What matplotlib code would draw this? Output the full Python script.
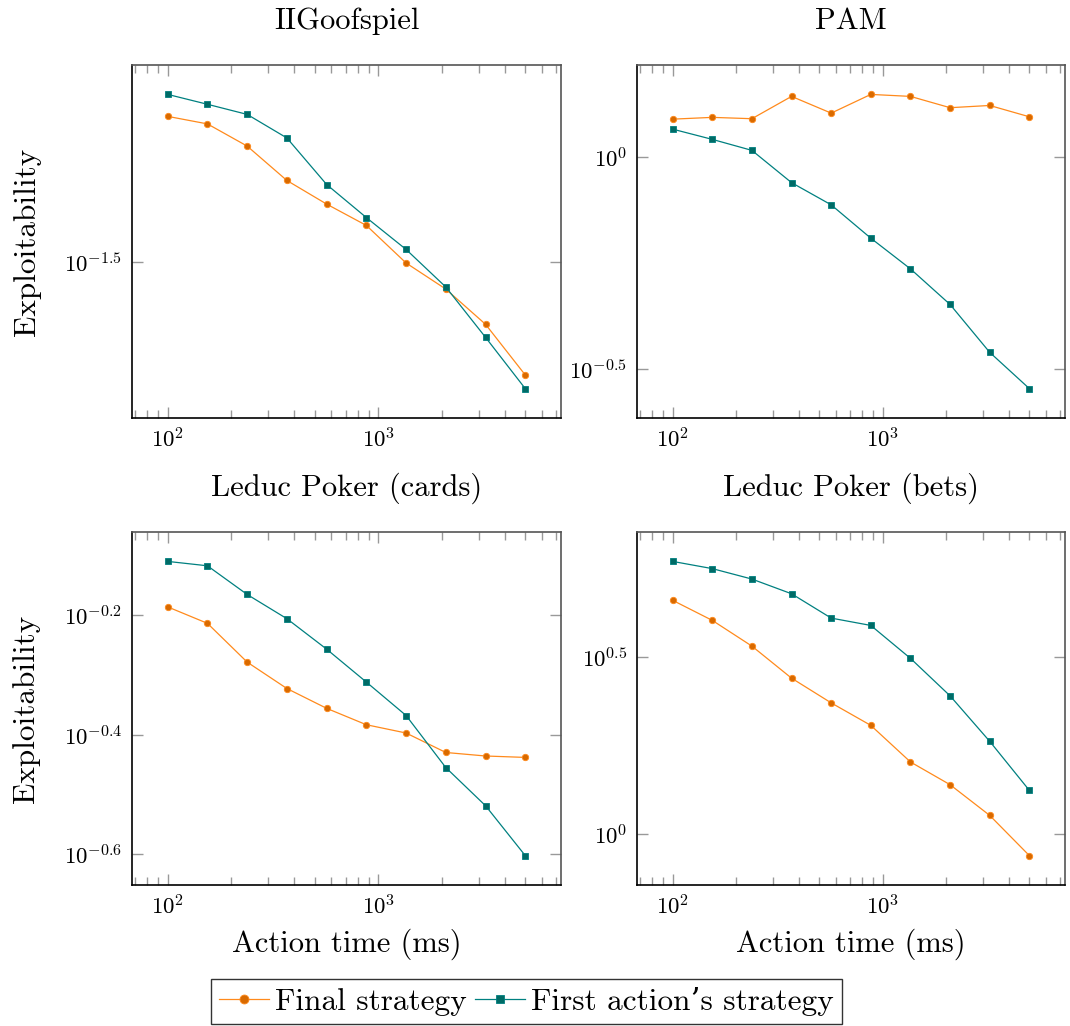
import numpy as np
import matplotlib
matplotlib.use("Agg")
import matplotlib.pyplot as plt
from matplotlib.ticker import FixedLocator, NullFormatter

plt.rcParams["font.family"] = ["cmr10", "DejaVu Serif"]
plt.rcParams["mathtext.fontset"] = "cm"
plt.rcParams["axes.formatter.use_mathtext"] = True

# --- data -------------------------------------------------------------------
action_time = [100, 154.4, 238.5, 368.4, 569.0, 878.7, 1357.2, 2096.1, 3237.5, 5000]

goof_final = [0.0675, 0.0649, 0.0578, 0.0483, 0.0427, 0.0382, 0.0314, 0.0274, 0.0228, 0.0175]
goof_first = [0.0757, 0.0719, 0.0682, 0.0603, 0.0473, 0.0398, 0.0337, 0.0277, 0.0213, 0.0163]

pam_final = [1.231, 1.243, 1.234, 1.393, 1.272, 1.408, 1.393, 1.310, 1.326, 1.247]
pam_first = [1.166, 1.103, 1.039, 0.872, 0.773, 0.645, 0.546, 0.450, 0.347, 0.285]

cards_final = [0.652, 0.612, 0.527, 0.476, 0.441, 0.414, 0.401, 0.372, 0.367, 0.365]
cards_first = [0.777, 0.764, 0.684, 0.623, 0.554, 0.488, 0.429, 0.351, 0.303, 0.250]

bets_final = [4.58, 4.02, 3.40, 2.76, 2.35, 2.03, 1.60, 1.38, 1.13, 0.870]
bets_first = [5.90, 5.63, 5.26, 4.78, 4.08, 3.89, 3.14, 2.46, 1.83, 1.33]

titles = ["IIGoofspiel", "PAM", "Leduc Poker (cards)", "Leduc Poker (bets)"]
series = [(goof_final, goof_first), (pam_final, pam_first),
          (cards_final, cards_first), (bets_final, bets_first)]
y_tick_exps = [[-1.5], [0, -0.5], [-0.2, -0.4, -0.6], [0.5, 0]]
x_tick_exps = [2, 3]

labels = ["Final strategy", "First action\u2019s strategy"]

# --- style --------------------------------------------------------------------
ORANGE = "#FF8A1C"
ORANGE_DARK = "#D96A00"
TEAL = "#008080"
TEAL_DARK = "#006B66"

W, H = 1070, 1026
fig = plt.figure(figsize=(W / 100, H / 100), dpi=100)

# axes boxes in pixels: left, top, right, bottom
boxes = [(132, 65, 561, 418), (637, 65, 1065, 418),
         (132, 532, 561, 885), (637, 532, 1065, 885)]


def fmt_exp(e):
    return r"$10^{%g}$" % e


def enlarged(vals):
    lv = np.log10(vals)
    lo, hi = lv.min(), lv.max()
    d = 0.1 * (hi - lo)
    return 10 ** (lo - d), 10 ** (hi + d)


axes = []
for i, (l, t, r, b) in enumerate(boxes):
    ax = fig.add_axes([l / W, 1 - b / H, (r - l) / W, (b - t) / H])
    axes.append(ax)
    fin, fst = series[i]
    ax.plot(action_time, fin, "-o", color=ORANGE, lw=0.9, ms=4.6,
            mfc=ORANGE_DARK, mec=ORANGE, mew=0.6, label=labels[0])
    ax.plot(action_time, fst, "-s", color=TEAL, lw=0.9, ms=4.6,
            mfc=TEAL_DARK, mec=TEAL, mew=0.6, label=labels[1])
    ax.set_xscale("log")
    ax.set_yscale("log")
    ax.set_xlim(*enlarged(np.array(action_time)))
    ax.set_ylim(*enlarged(np.array(fin + fst)))

    ax.xaxis.set_major_locator(FixedLocator([10.0 ** e for e in x_tick_exps]))
    ax.set_xticklabels([fmt_exp(e) for e in x_tick_exps])
    minors = [m * 10.0 ** k for k in (1, 2, 3) for m in range(2, 10)]
    ax.xaxis.set_minor_locator(FixedLocator(minors))
    ax.xaxis.set_minor_formatter(NullFormatter())

    ye = y_tick_exps[i]
    ax.yaxis.set_major_locator(FixedLocator([10.0 ** e for e in ye]))
    ax.set_yticklabels([fmt_exp(e) for e in ye])
    ax.yaxis.set_minor_locator(FixedLocator([]))

    ax.tick_params(which="both", direction="in", top=True, right=True,
                   color="#999999", width=1.0, labelsize=16.5, pad=7)
    ax.tick_params(which="major", length=8)
    ax.tick_params(which="minor", length=6)
    for side in ("left", "bottom"):
        ax.spines[side].set_color("black")
        ax.spines[side].set_linewidth(1.2)
    for side in ("top", "right"):
        ax.spines[side].set_color("#555555")
        ax.spines[side].set_linewidth(1.2)

    ax.set_title(titles[i], fontsize=22, pad=26)
    if i % 2 == 0:
        ax.set_ylabel("Exploitability", fontsize=22.5, labelpad=17)
    if i >= 2:
        ax.set_xlabel("Action time (ms)", fontsize=22, labelpad=7)

handles, lbls = axes[0].get_legend_handles_labels()
leg = fig.legend(handles, lbls, loc="upper center",
                 bbox_to_anchor=(526.5 / W, 1 - 979 / H), ncol=2,
                 fontsize=22.5, frameon=True, fancybox=False,
                 edgecolor="black", handlelength=1.6, handletextpad=0.2,
                 columnspacing=0.25, borderpad=0.25, borderaxespad=0,
                 markerscale=1.4)
leg.get_frame().set_linewidth(1.0)

fig.savefig("out.png", dpi=100)
